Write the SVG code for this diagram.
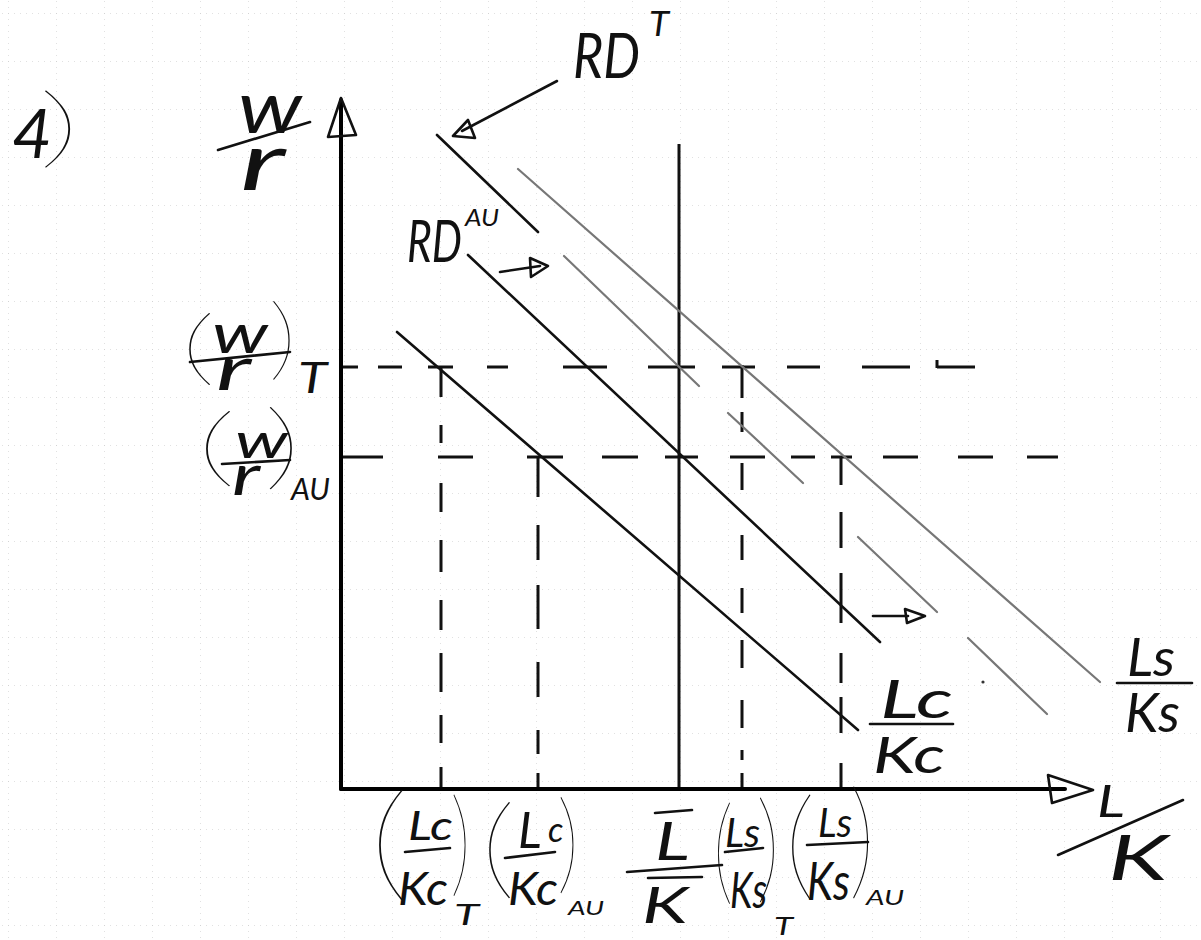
<svg xmlns="http://www.w3.org/2000/svg" width="1201" height="940" viewBox="0 0 1201 940">
<defs>
<pattern id="grid" x="8" y="13" width="48" height="48" patternUnits="userSpaceOnUse">
<path d="M0 0 V48 M0 0 H48" stroke="#c4c4c4" stroke-width="1" stroke-dasharray="1 5" fill="none"/>
</pattern>
<style>
.hw{font-family:"Liberation Sans","DejaVu Sans",sans-serif;font-style:italic;fill:#111}
.hl{font-family:"Lato","Liberation Sans",sans-serif;font-style:italic;font-weight:400;fill:#111}
.pr{font-family:"Lato","Roboto","Inter","Liberation Sans",sans-serif;font-weight:200;fill:#111}
.ax{stroke:#000;stroke-width:4;fill:none;stroke-linecap:round}
.bl{stroke:#111;stroke-width:2.6;fill:none;stroke-linecap:round}
.gr{stroke:#777;stroke-width:2.2;fill:none;stroke-linecap:round}
.ds{stroke:#111;stroke-width:3;fill:none}
.pen{stroke:#111;stroke-width:2.6;fill:none;stroke-linecap:round;stroke-linejoin:round}
</style>
</defs>
<rect width="1201" height="940" fill="#fff"/>
<rect width="1201" height="940" fill="url(#grid)"/>

<g id="guides">
<path class="ds" d="M342 367H358M378 367H402M428 367H453M487 367H508M563 367H607M648 367H695M722 367H755M787 367H820M862 367H910M937 367H975M937 360V368"/>
<path class="ds" d="M342 457H383M438 457H473M527 457H563M602 457H638M665 457H698M730 457H765M791 457H815M831 457H852M883 457H918M958 457H993M1027 457H1058"/>
<path class="ds" d="M441 367V397M441 425V443M441 483V512M441 540V572M441 600V630M441 653V692M441 715V743M441 767V789"/>
<path class="ds" d="M538 457V497M538 525V560M538 585V629M538 662V697M538 730V754M538 773V789"/>
<path class="ds" d="M742 365V398M742 412V432M742 463V490M742 535V560M742 588V613M742 640V668M742 700V728M742 750V760M742 773V789"/>
<path class="ds" d="M841 457V485M841 512V548M841 573V623M841 653V683M841 697V733M841 763V789"/>
<path d="M679 144V789" stroke="#111" stroke-width="3" fill="none"/>
</g>

<g id="axes">
<path class="ax" d="M341 100V789"/>
<path class="pen" stroke-width="3" d="M341 98L328 137L356 135Z"/>
<path class="ax" d="M341 789H1065"/>
<path class="pen" stroke-width="3.5" d="M1048 775L1093 790L1052 803Z"/>
</g>

<g id="curves">
<path class="bl" stroke-width="3" d="M437 135L538 232"/>
<path class="gr" d="M518 169L1100 682"/>
<path class="gr" d="M564 256L699 386M858 537L937 612"/>
<path class="bl" stroke-width="3" d="M468 255L880 642"/>
<path class="gr" d="M728 413L803 483M968 638L1047 714"/>
<path class="bl" stroke-width="2.2" d="M397 332L858 730"/>
<circle cx="983" cy="682" r="1.6" fill="#333"/>
</g>

<g id="arrows">
<path class="pen" d="M557 81L462 131"/>
<path class="pen" stroke-width="3" d="M453 136L468 120L475 138Z"/>
<path class="pen" stroke-width="3" d="M500 272L540 266"/>
<path class="pen" stroke-width="3" d="M530 258L548 266L531 277Z"/>
<path class="pen" stroke-width="3.5" d="M873 616L908 616"/>
<path class="pen" stroke-width="3" fill="#111" d="M905 609L925 616L907 623Z"/>
</g>

<g id="label-number">
<text class="hl" x="12" y="158" font-size="68" textLength="40" lengthAdjust="spacingAndGlyphs">4</text>
<text class="pr" font-size="89" transform="translate(37.8 157) scale(1.95 1)">)</text>
</g>

<g id="label-yaxis">
<text class="hl" x="238" y="133" font-size="74" textLength="64" lengthAdjust="spacingAndGlyphs">w</text>
<path class="pen" stroke-width="4" d="M218 150L310 122"/>
<text class="hl" x="240" y="190" font-size="82" textLength="45" lengthAdjust="spacingAndGlyphs">r</text>
</g>

<g id="label-RDT">
<text class="hl" x="573" y="78" font-size="62" textLength="67" lengthAdjust="spacingAndGlyphs">RD</text>
<text class="hl" x="649" y="36" font-size="34" textLength="20" lengthAdjust="spacingAndGlyphs">T</text>
</g>

<g id="label-RDAU">
<text class="hl" x="407" y="262" font-size="58" textLength="55" lengthAdjust="spacingAndGlyphs">RD</text>
<text class="hl" x="465" y="226" font-size="24" textLength="34" lengthAdjust="spacingAndGlyphs">AU</text>
</g>

<g id="label-wrT">
<text class="pr" font-size="83" transform="translate(180 375) scale(1.73 1)">(</text>
<text class="hl" x="212" y="353" font-size="54" textLength="56" lengthAdjust="spacingAndGlyphs">w</text>
<path class="pen" stroke-width="3" d="M190 362L290 352"/>
<text class="hl" x="216" y="390" font-size="60" textLength="35" lengthAdjust="spacingAndGlyphs">r</text>
<text class="pr" font-size="90" transform="translate(268.6 369) scale(1.26 1)">)</text>
<text class="hl" x="298" y="393" font-size="42" textLength="29" lengthAdjust="spacingAndGlyphs">T</text>
</g>

<g id="label-wrAU">
<text class="pr" font-size="87" transform="translate(195.4 476) scale(1.9 1)">(</text>
<text class="hl" x="235" y="458" font-size="48" textLength="53" lengthAdjust="spacingAndGlyphs">w</text>
<path class="pen" stroke-width="3" d="M222 464L290 460"/>
<text class="hl" x="232" y="495" font-size="56" textLength="28" lengthAdjust="spacingAndGlyphs">r</text>
<text class="pr" font-size="94" transform="translate(263.4 478) scale(1.62 1)">)</text>
<text class="hl" x="291" y="500" font-size="31" textLength="39" lengthAdjust="spacingAndGlyphs">AU</text>
</g>

<g id="label-LcKc">
<text class="hl" x="880" y="718" font-size="52" textLength="73" lengthAdjust="spacingAndGlyphs">Lc</text>
<path class="pen" stroke-width="3" d="M870 724H953"/>
<text class="hl" x="873" y="773" font-size="50" textLength="72" lengthAdjust="spacingAndGlyphs">Kc</text>
</g>

<g id="label-LsKs">
<text class="hl" x="1127" y="676" font-size="53" textLength="48" lengthAdjust="spacingAndGlyphs">Ls</text>
<path class="pen" stroke-width="3" d="M1117 683H1192"/>
<text class="hl" x="1125" y="732" font-size="54" textLength="55" lengthAdjust="spacingAndGlyphs">Ks</text>
</g>

<g id="label-LcKcT">
<text class="pr" font-size="127" transform="translate(368.7 885) scale(1.27 1)">(</text>
<text class="hl" x="408" y="840" font-size="40" textLength="45" lengthAdjust="spacingAndGlyphs">Lc</text>
<path class="pen" stroke-width="3" d="M405 852L450 848"/>
<text class="hl" x="398" y="905" font-size="46" textLength="50" lengthAdjust="spacingAndGlyphs">Kc</text>
<text class="pr" font-size="117" transform="translate(450.3 882) scale(0.7 1)">)</text>
<text class="hl" x="454" y="925" font-size="28" textLength="25" lengthAdjust="spacingAndGlyphs">T</text>
</g>

<g id="label-LcKcAU">
<text class="pr" font-size="110" transform="translate(480 885) scale(1.3 1)">(</text>
<text class="hl" x="518" y="848" font-size="50">L<tspan x="548" y="842" font-size="34">c</tspan></text>
<path class="pen" stroke-width="3" d="M505 858L555 852"/>
<text class="hl" x="508" y="905" font-size="46" textLength="50" lengthAdjust="spacingAndGlyphs">Kc</text>
<text class="pr" font-size="110" transform="translate(557 880) scale(0.8 1)">)</text>
<text class="hl" x="568" y="915" font-size="19" textLength="36" lengthAdjust="spacingAndGlyphs">AU</text>
</g>

<g id="label-LbarK">
<path class="pen" stroke-width="3" d="M655 813L692 810"/>
<text class="hl" x="655" y="860" font-size="52" textLength="35" lengthAdjust="spacingAndGlyphs">L</text>
<path class="pen" stroke-width="2.5" d="M627 872L722 865M648 878L702 877"/>
<text class="hl" x="642" y="923" font-size="50" textLength="46" lengthAdjust="spacingAndGlyphs">K</text>
</g>

<g id="label-LsKsT">
<text class="pr" font-size="117" transform="translate(712.7 890) scale(0.7 1)">(</text>
<text class="hl" x="725" y="847" font-size="40" textLength="35" lengthAdjust="spacingAndGlyphs">Ls</text>
<path class="pen" stroke-width="3" d="M725 852L763 848"/>
<text class="hl" x="730" y="908" font-size="50" textLength="37" lengthAdjust="spacingAndGlyphs">Ks</text>
<text class="pr" font-size="120" transform="translate(756 888) scale(0.8 1)">)</text>
<text class="hl" x="774" y="935" font-size="26" textLength="19" lengthAdjust="spacingAndGlyphs">T</text>
</g>

<g id="label-LsKsAU">
<text class="pr" font-size="120" transform="translate(784 885) scale(1.05 1)">(</text>
<text class="hl" x="818" y="837" font-size="40" textLength="34" lengthAdjust="spacingAndGlyphs">Ls</text>
<path class="pen" stroke-width="3" d="M807 845L868 842"/>
<text class="hl" x="807" y="900" font-size="52" textLength="43" lengthAdjust="spacingAndGlyphs">Ks</text>
<text class="pr" font-size="128" transform="translate(849 883) scale(0.8 1)">)</text>
<text class="hl" x="866" y="905" font-size="22" textLength="38" lengthAdjust="spacingAndGlyphs">AU</text>
</g>

<g id="label-xaxis">
<text class="hl" x="1097" y="817" font-size="44" textLength="28" lengthAdjust="spacingAndGlyphs">L</text>
<path class="pen" stroke-width="5" d="M1058 855L1183 800"/>
<text class="hl" x="1108" y="880" font-size="62" textLength="60" lengthAdjust="spacingAndGlyphs">K</text>
</g>
</svg>
